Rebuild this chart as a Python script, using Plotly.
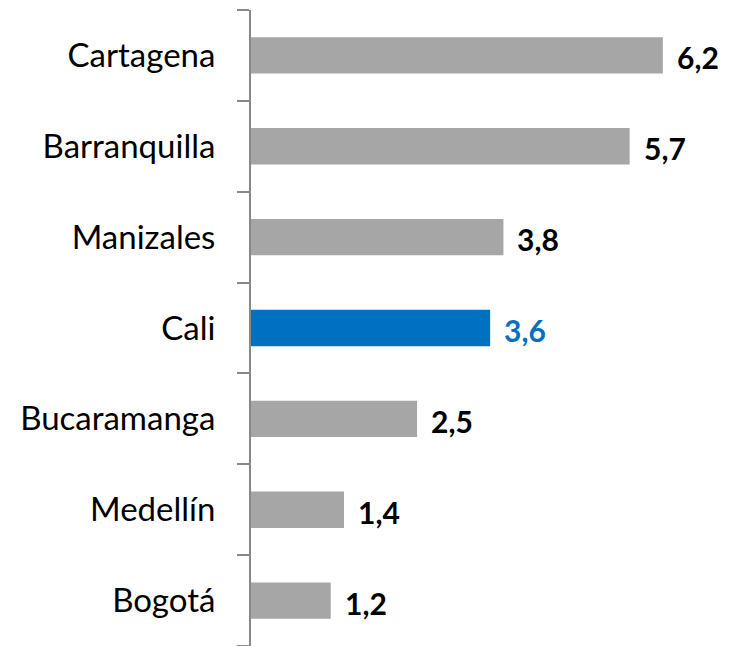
import plotly.graph_objects as go

cities = ["Bogotá", "Medellín", "Bucaramanga", "Cali", "Manizales", "Barranquilla", "Cartagena"]
values = [1.2, 1.4, 2.5, 3.6, 3.8, 5.7, 6.2]
labels = ["1,2", "1,4", "2,5", "3,6", "3,8", "5,7", "6,2"]
highlight = "Cali"

GRAY = "#A6A6A6"
BLUE = "#0070C0"
bar_colors = [BLUE if c == highlight else GRAY for c in cities]
text_colors = [BLUE if c == highlight else "#000000" for c in cities]

fig = go.Figure()
fig.add_trace(go.Bar(
    y=cities, x=values, orientation="h",
    marker=dict(color=bar_colors, line=dict(width=0)),
    width=0.4, hoverinfo="skip",
))

for c, v, t, col in zip(cities, values, labels, text_colors):
    fig.add_annotation(
        x=v, y=c, text=f"<b>{t}</b>", showarrow=False,
        xanchor="left", yanchor="middle", xshift=12, yshift=-2,
        font=dict(family="Lato, sans-serif", size=30, color=col),
    )

fig.update_layout(
    width=729, height=646,
    margin=dict(l=243, r=21, t=2, b=8),
    paper_bgcolor="white", plot_bgcolor="white",
    showlegend=False,
    font=dict(family="Lato, sans-serif", size=33, color="#000000"),
    xaxis=dict(range=[0, 7], visible=False, automargin=False),
    yaxis=dict(
        range=[-0.5, 6.5], showline=True, linecolor="#888888", linewidth=2,
        ticks="outside", ticklen=12, tickcolor="#888888", tickwidth=2,
        tickson="boundaries", showgrid=False, zeroline=False, automargin=False,
        ticklabelstandoff=27, tickfont=dict(family="Lato, sans-serif", size=33, color="#000000"),
    ),
)

fig.write_html("out.html")
